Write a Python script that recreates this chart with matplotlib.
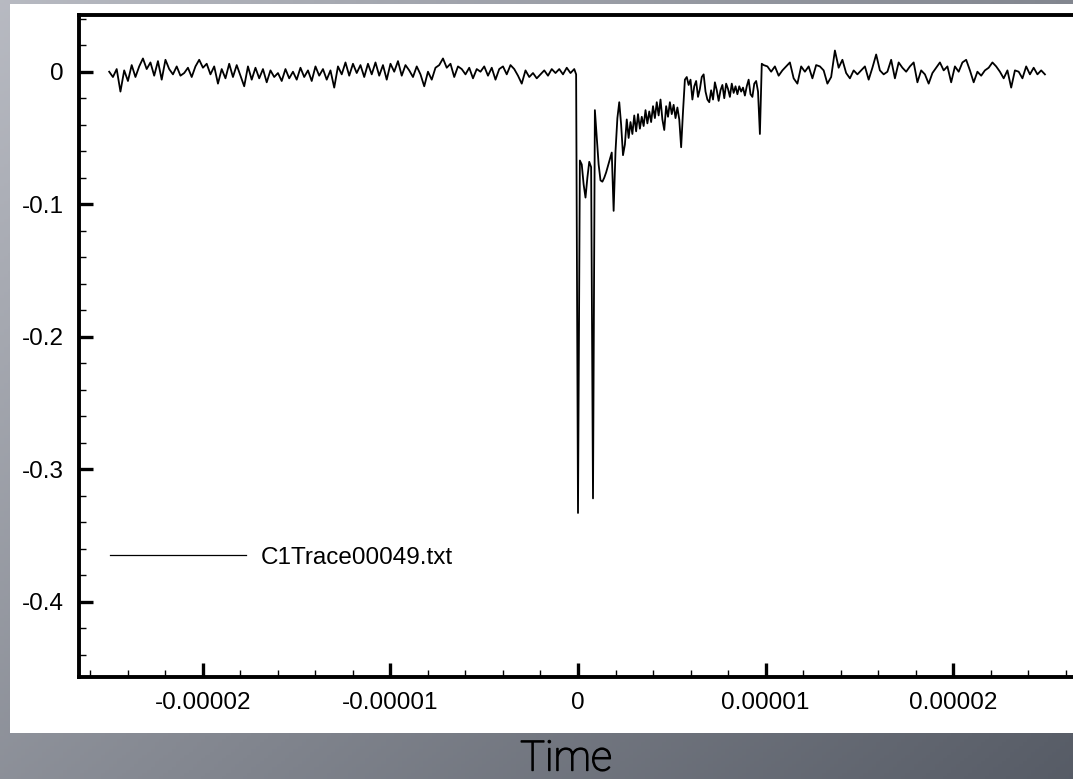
import numpy as np
import matplotlib.pyplot as plt
import matplotlib.patheffects as pe
from matplotlib.patches import Rectangle
from matplotlib.ticker import FixedLocator, FixedFormatter, MultipleLocator

# scope channel 1, pre-trigger baseline (0.2 us sampling)
pre_start = -2.5e-5
pre_step = 2e-7
pre_values = [
    0.000, -0.004, 0.002, -0.015, 0.001, -0.007, 0.005, -0.004, 0.004, 0.010,
    0.002, 0.007, -0.003, 0.008, -0.006, 0.009, 0.002, -0.002, 0.004, -0.003,
    -0.001, 0.003, -0.004, 0.004, 0.009, 0.003, 0.006, -0.002, 0.004, -0.009,
    0.002, -0.005, 0.006, -0.004, 0.005, -0.003, -0.011, 0.004, -0.006, 0.003,
    -0.005, 0.002, -0.008, 0.001, -0.004, -0.001, -0.007, 0.002, -0.005, 0.000,
    -0.006, 0.003, -0.004, 0.001, -0.007, 0.004, -0.003, 0.002, -0.006, 0.001,
    -0.012, 0.004, -0.002, 0.007, -0.003, 0.006, -0.001, 0.005, -0.004, 0.006,
    -0.002, 0.007, -0.003, 0.005, -0.006, 0.006, 0.000, 0.008, -0.003, 0.005,
    0.001, -0.004, 0.004, -0.002, -0.011, 0.000, -0.006, 0.003, 0.005, 0.010,
    0.003, 0.006, -0.004, 0.004, 0.002, -0.002, 0.003, -0.005, 0.002, 0.000,
    0.004, -0.003, 0.003, -0.006, 0.002, 0.004, -0.002, 0.005, 0.002, -0.003,
    -0.009, 0.001, -0.004, -0.001, -0.005, -0.002, 0.001, -0.003, 0.002, -0.001,
    0.002, -0.002, 0.003, -0.001, 0.002,
]

# trigger window (0.1 us sampling)
evt_start = -1e-7
evt_step = 1e-7
evt_values = [
    -0.002, -0.333, -0.067, -0.070, -0.085, -0.095, -0.080, -0.068, -0.072, -0.322,
    -0.029, -0.050, -0.070, -0.082, -0.083, -0.080, -0.076, -0.071, -0.066, -0.061,
    -0.105, -0.060, -0.035, -0.023, -0.040, -0.063, -0.055, -0.036, -0.050, -0.038,
    -0.047, -0.033, -0.045, -0.032, -0.043, -0.034, -0.041, -0.029, -0.039, -0.030,
    -0.038, -0.026, -0.035, -0.023, -0.033, -0.021, -0.036, -0.044, -0.026, -0.034,
    -0.023, -0.032, -0.025, -0.035, -0.027, -0.036, -0.057, -0.030, -0.006, -0.004,
    -0.010, -0.006, -0.021, -0.011, -0.007, -0.019, -0.013, -0.004, -0.002, -0.015,
    -0.021, -0.023, -0.014, -0.021, -0.008, -0.014, -0.022, -0.014, -0.010, -0.020,
    -0.009, -0.013, -0.019, -0.009, -0.016, -0.011, -0.017, -0.011, -0.015, -0.012,
    -0.018, -0.011, -0.006, -0.017, -0.019, -0.009, -0.007, -0.015, -0.047, 0.006,
    0.005,
]

# recovered baseline (0.2 us sampling)
post_start = 1.01e-5
post_step = 2e-7
post_values = [
    0.004, 0.000, 0.004, -0.003, 0.001, 0.004, 0.007, -0.005, -0.009, 0.004,
    0.000, 0.004, -0.005, 0.005, 0.004, 0.001, -0.009, -0.004, 0.016, 0.003,
    0.009, -0.001, -0.005, 0.001, -0.002, 0.001, 0.004, -0.006, 0.003, 0.013,
    0.001, -0.002, 0.000, 0.009, -0.005, 0.007, 0.003, 0.000, 0.004, 0.007,
    -0.008, 0.001, -0.002, -0.009, -0.001, 0.003, 0.007, 0.001, 0.004, -0.008,
    0.004, 0.000, 0.007, 0.009, 0.001, -0.008, 0.000, -0.003, 0.001, 0.003,
    0.007, 0.004, 0.000, -0.005, 0.001, -0.012, 0.001, 0.000, -0.005, 0.004,
    -0.002, 0.003, -0.002, 0.001, -0.002,
]

x_ticks = [-2e-5, -1e-5, 0.0, 1e-5, 2e-5]
x_labels = ["-0.00002", "-0.00001", "0", "0.00001", "0.00002"]
y_ticks = [0.0, -0.1, -0.2, -0.3, -0.4]
y_labels = ["0", "-0.1", "-0.2", "-0.3", "-0.4"]
trace_name = "C1Trace00049.txt"
x_title = "Time"


def segment(start, step, values):
    t = start + step * np.arange(len(values))
    return t, np.array(values)


t_pre, v_pre = segment(pre_start, pre_step, pre_values)
t_evt, v_evt = segment(evt_start, evt_step, evt_values)
t_post, v_post = segment(post_start, post_step, post_values)
t = np.concatenate([t_pre, t_evt, t_post])
v = np.concatenate([v_pre, v_evt, v_post])

W, H, DPI = 1073, 779, 100
fig = plt.figure(figsize=(W / DPI, H / DPI), dpi=DPI)

# slide-style grey gradient behind the plot
bg = fig.add_axes([0, 0, 1, 1], zorder=-10)
gx, gy = np.meshgrid(np.linspace(0, 1, 256), np.linspace(0, 1, 256))
mix = (0.55 * gx + 0.45 * gy)[..., None]
light = np.array([0.72, 0.73, 0.76])
dark = np.array([0.34, 0.36, 0.40])
bg.imshow(light * (1 - mix) + dark * mix, aspect="auto", extent=[0, 1, 0, 1])
bg.axis("off")

# white panel the plot sits on
fig.patches.append(Rectangle((10 / W, 1 - 733 / H), 1.0, (733 - 4) / H,
                             transform=fig.transFigure, facecolor="white",
                             edgecolor="none", zorder=-5))

ax = fig.add_axes([79 / W, 1 - 677 / H, (1077 - 79) / W, (677 - 15) / H])
ax.set_facecolor("white")
ax.plot(t, v, color="black", lw=1.3, label=trace_name)

ax.set_xlim(-2.661e-5, 2.661e-5)
ax.set_ylim(-0.4568, 0.0428)

for side in ax.spines.values():
    side.set_linewidth(2.8)

tick_family = "Liberation Sans"
tick_size = 17.5
ax.xaxis.set_major_locator(FixedLocator(x_ticks))
ax.xaxis.set_major_formatter(FixedFormatter(x_labels))
ax.xaxis.set_minor_locator(MultipleLocator(2e-6))
ax.yaxis.set_major_locator(FixedLocator(y_ticks))
ax.yaxis.set_major_formatter(FixedFormatter(y_labels))
ax.yaxis.set_minor_locator(MultipleLocator(0.02))
ax.tick_params(which="both", direction="in", top=False, right=False)
ax.tick_params(which="major", length=10, width=2.4, pad=11)
ax.tick_params(which="minor", length=5, width=1.0)
for lab in ax.get_xticklabels() + ax.get_yticklabels():
    lab.set_fontfamily(tick_family)
    lab.set_fontsize(tick_size)

leg = ax.legend(loc="center left", bbox_to_anchor=(0.031, 0.18),
                frameon=False, borderpad=0, borderaxespad=0,
                handlelength=5.6, handletextpad=0.6,
                prop={"family": tick_family, "size": tick_size})
leg.get_lines()[0].set_linewidth(0.9)

# thin title font, thickened slightly with a stroke
fig.text(566 / W, 1 - 759 / H, x_title, ha="center", va="center",
         fontsize=30, family="Roboto", fontweight="light", color="black",
         path_effects=[pe.withStroke(linewidth=1.0, foreground="black")])

fig.savefig("out.png", dpi=DPI)
